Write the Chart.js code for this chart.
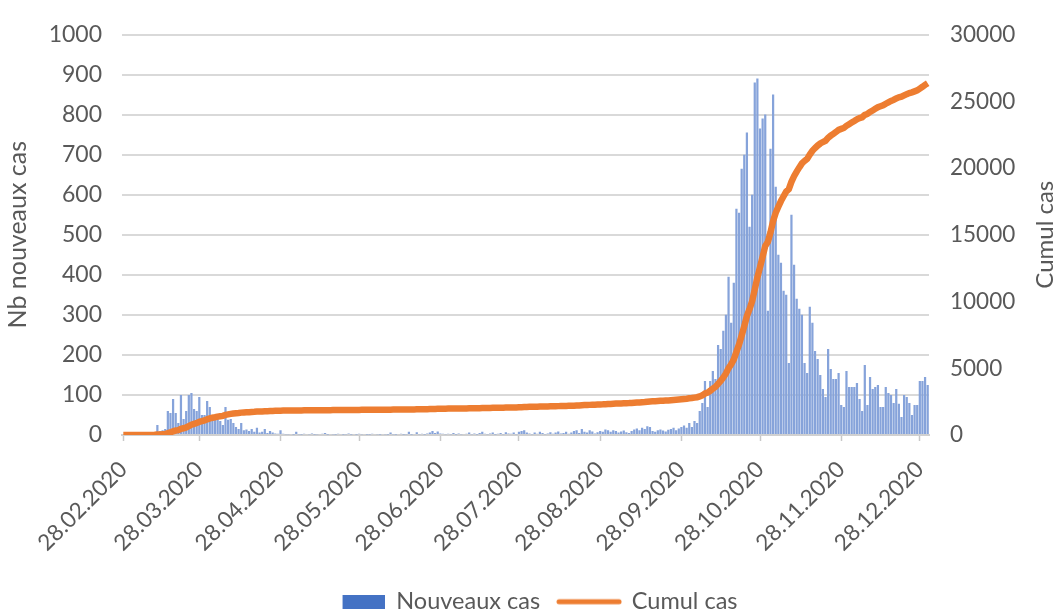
<!DOCTYPE html>
<html>
<head>
<meta charset="utf-8">
<script src="https://cdn.jsdelivr.net/npm/chart.js@4.4.1/dist/chart.umd.min.js"></script>
<style>
  html, body { margin: 0; padding: 0; background: #fff; }
  #wrap { width: 1060px; height: 612px; }
</style>
</head>
<body>
<div id="wrap"><canvas id="chart" width="1060" height="612"></canvas></div>
<script>
// new cases per day, one array per month (first day = 28.02.2020)
const casesFeb = [0, 0];
const casesMar = [0, 0, 0, 0, 1, 0, 1, 2, 1, 3, 4, 25, 10, 12, 15, 60, 55, 90, 55, 30,
  100, 40, 60, 100, 105, 65, 60, 95, 50, 50, 85];
const casesApr = [70, 45, 40, 45, 35, 25, 70, 38, 40, 30, 20, 15, 30, 12, 14, 10, 15, 8, 18, 6,
  8, 15, 5, 10, 6, 4, 3, 12, 3, 2];
const casesMay = [2, 0, 1, 8, 2, 1, 3, 0, 2, 4, 1, 2, 0, 3, 5, 1, 0, 2, 1, 3,
  0, 1, 2, 4, 1, 0, 1, 3, 2, 0, 1];
const casesJun = [1, 3, 0, 2, 1, 0, 2, 1, 6, 2, 1, 0, 3, 1, 2, 8, 1, 0, 7, 2,
  3, 1, 4, 6, 10, 5, 9, 4, 3, 2];
const casesJul = [3, 2, 5, 1, 4, 2, 0, 3, 6, 2, 4, 1, 5, 8, 3, 2, 4, 6, 1, 3,
  5, 2, 7, 4, 3, 6, 2, 8, 10, 12, 6];
const casesAug = [4, 2, 6, 3, 8, 5, 2, 4, 7, 3, 6, 9, 4, 5, 8, 3, 6, 10, 12, 5,
  15, 8, 6, 12, 9, 4, 7, 10, 8, 14, 12];
const casesSep = [8, 12, 10, 6, 9, 11, 7, 5, 10, 14, 16, 12, 18, 15, 22, 20, 10, 8, 12, 14,
  11, 9, 13, 15, 18, 12, 16, 20, 24, 18];
const casesOct = [30, 20, 35, 30, 60, 80, 135, 70, 135, 160, 140, 225, 215, 260, 300, 395, 280, 380, 565, 555,
  665, 700, 755, 520, 600, 880, 890, 765, 790, 800, 310];
const casesNov = [715, 850, 620, 450, 430, 360, 350, 180, 550, 425, 340, 315, 300, 180, 155, 320, 280, 210, 190, 150,
  115, 95, 215, 165, 140, 140, 155, 75, 70, 160];
const casesDec = [120, 120, 120, 130, 90, 60, 175, 75, 145, 115, 120, 125, 70, 70, 120, 105, 100, 80, 115, 78,
  45, 100, 95, 80, 50, 75, 75, 135, 135, 145, 125];

const newCases = [].concat(casesFeb, casesMar, casesApr, casesMay, casesJun, casesJul,
  casesAug, casesSep, casesOct, casesNov, casesDec);

// date labels dd.mm.yyyy
const pad = n => String(n).padStart(2, '0');
const dayLabels = newCases.map((_, i) => {
  const d = new Date(Date.UTC(2020, 1, 28 + i));
  return `${pad(d.getUTCDate())}.${pad(d.getUTCMonth() + 1)}.${d.getUTCFullYear()}`;
});

// running total
let total = 0;
const cumulCases = newCases.map(v => (total += v));

const TEXT = '#595959';
const FONT = 'Lato';

function swatch(w, h, draw) {
  const c = document.createElement('canvas');
  c.width = w; c.height = h;
  draw(c.getContext('2d'));
  return c;
}
const barSwatch = swatch(62, 14, ctx => { ctx.fillStyle = '#4472C4'; ctx.fillRect(20, 0, 42, 14); });
const lineSwatch = swatch(66, 14, ctx => {
  ctx.strokeStyle = '#ED7D31'; ctx.lineWidth = 5; ctx.lineCap = 'round';
  ctx.beginPath(); ctx.moveTo(3, 7); ctx.lineTo(63, 7); ctx.stroke();
});

const legendHeight = {
  id: 'legendHeight',
  beforeInit(chart) {
    const fit = chart.legend.fit;
    chart.legend.fit = function () { fit.call(this); this.height = 40; };
  },
};

const rightTitle = {
  id: 'rightTitle',
  afterDraw(chart) {
    const { ctx, chartArea } = chart;
    ctx.save();
    ctx.translate(1045, (chartArea.top + chartArea.bottom) / 2);
    ctx.rotate(-Math.PI / 2);
    ctx.font = `24px ${FONT}`;
    ctx.fillStyle = TEXT;
    ctx.textAlign = 'center';
    ctx.textBaseline = 'middle';
    ctx.fillText('Cumul cas', 0, 0);
    ctx.restore();
  },
};

new Chart(document.getElementById('chart'), {
  type: 'bar',
  data: {
    labels: dayLabels,
    datasets: [
      {
        label: 'Nouveaux cas',
        data: newCases,
        backgroundColor: '#86a3da',
        barPercentage: 0.85,
        categoryPercentage: 1,
        yAxisID: 'y',
        order: 1,
        pointStyle: barSwatch,
      },
      {
        type: 'line',
        label: 'Cumul cas',
        data: cumulCases,
        borderColor: '#ED7D31',
        borderWidth: 6.5,
        pointRadius: 0,
        tension: 0,
        yAxisID: 'y1',
        order: 0,
        pointStyle: lineSwatch,
      },
    ],
  },
  options: {
    responsive: false,
    animation: false,
    layout: { padding: { top: 28, right: 0, bottom: 0, left: 0 } },
    plugins: {
      legend: {
        position: 'bottom',
        labels: {
          usePointStyle: true,
          pointStyleWidth: 62,
          padding: 18,
          color: TEXT,
          font: { family: FONT, size: 23.5 },
          sort: (a, b) => a.datasetIndex - b.datasetIndex,
        },
      },
      tooltip: { enabled: false },
    },
    scales: {
      x: {
        offset: true,
        afterFit: s => { s.height = 137; },
        border: { display: true, color: '#d0d0d0', width: 2 },
        grid: {
          offset: false,
          drawOnChartArea: false,
          drawTicks: true,
          tickLength: 6,
          tickWidth: 1.5,
          tickColor: c => (c.tick && String(c.tick.label).startsWith('28.') ? '#c8c8c8' : 'rgba(0,0,0,0)'),
        },
        ticks: {
          autoSkip: false,
          minRotation: 45,
          maxRotation: 45,
          padding: 15,
          color: TEXT,
          font: { family: FONT, size: 22.5 },
          callback(value) {
            const lbl = this.getLabelForValue(value);
            return lbl.startsWith('28.') ? lbl : '';
          },
        },
      },
      y: {
        position: 'left',
        min: 0,
        max: 1000,
        afterFit: s => { s.width = 122; },
        border: { display: false },
        grid: { color: '#d9d9d9', lineWidth: 2, drawTicks: false },
        ticks: {
          stepSize: 100,
          padding: 20,
          color: TEXT,
          font: { family: FONT, size: 23 },
          callback: v => String(v),
        },
        title: {
          display: true,
          text: 'Nb nouveaux cas',
          color: TEXT,
          font: { family: FONT, size: 25 },
          padding: { top: 3, bottom: 4 },
        },
      },
      y1: {
        position: 'right',
        min: 0,
        max: 30000,
        afterFit: s => { s.width = 131; },
        border: { display: false },
        grid: { drawOnChartArea: false, drawTicks: false },
        ticks: {
          stepSize: 5000,
          padding: 21,
          color: TEXT,
          font: { family: FONT, size: 22.5 },
          callback: v => String(v),
        },
      },
    },
  },
  plugins: [legendHeight, rightTitle],
});
</script>
</body>
</html>
